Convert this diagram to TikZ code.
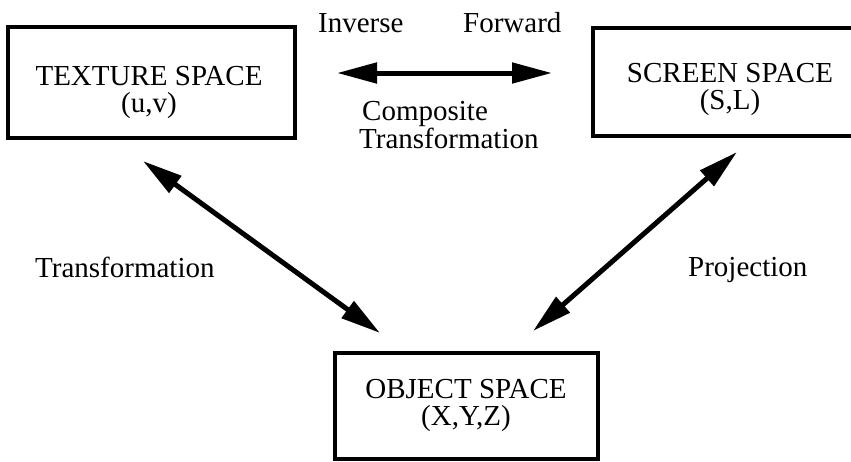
\documentclass[tikz,border=0pt]{standalone}
\usepackage{fontspec}
\setmainfont{Liberation Serif}
\usetikzlibrary{arrows.meta}
\begin{document}
\begin{tikzpicture}[x=1pt,y=-1pt,
  spacebox/.style={draw, line width=3.5pt, minimum width=#1, inner sep=0pt},
  boxtext/.style={font=\fontsize{29}{27}\selectfont, align=center, inner sep=0pt},
  lbl/.style={font=\fontsize{29}{23}\selectfont, inner sep=0pt, anchor=base west},
  dblarrow/.style={line width=5pt, {Triangle[length=40pt,width=20pt]}-{Triangle[length=40pt,width=20pt]}}
]
\useasboundingbox (0,0) rectangle (851,461);
% boxes
\node[spacebox=287pt, minimum height=111pt] (tex) at (151.5,82.5) {};
\node[spacebox=273pt, minimum height=108pt] (scr) at (729.5,82) {};
\node[spacebox=263pt, minimum height=106pt] (obj) at (466.5,406) {};
% box texts (anchor at baseline of the last line)
\node[boxtext, anchor=base] (texT) at (149,112) {TEXTURE SPACE\\(u,v)};
\node[boxtext, anchor=base] (scrT) at (730,109) {SCREEN SPACE\\(S,L)};
\node[boxtext, anchor=base] (objT) at (466,425) {OBJECT SPACE\\(X,Y,Z)};
% arrow end points
\coordinate (hL) at (337,73);
\coordinate (hR) at (552,73);
\coordinate (lU) at (143,161);
\coordinate (lD) at (380,333);
\coordinate (rU) at (737,152);
\coordinate (rD) at (533,331);
\draw[dblarrow] (hL) -- (hR);
\draw[dblarrow] (lU) -- (lD);
\draw[dblarrow] (rU) -- (rD);
% labels
\node[lbl] (inv) at (318,32) {Inverse};
\node[lbl] (fwd) at (463,32) {Forward};
\node[lbl, align=left] (comp) at (359,148) {\hspace*{3pt}Composite\\Transformation};
\node[lbl] (tr) at (35,277) {Transformation};
\node[lbl] (proj) at (688,276) {Projection};
\end{tikzpicture}
\end{document}
